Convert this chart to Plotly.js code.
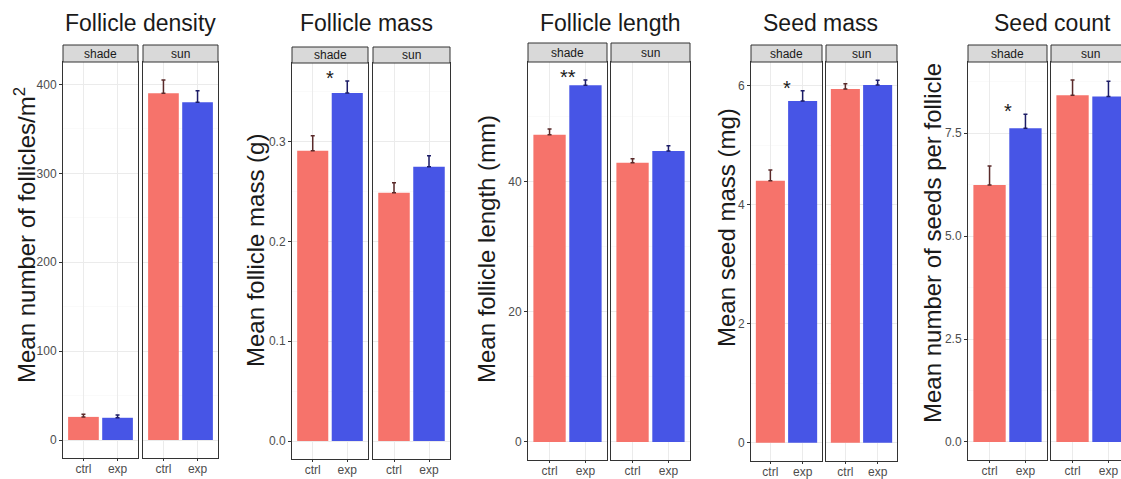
<!DOCTYPE html>
<html><head><meta charset="utf-8">
<script src="https://cdn.plot.ly/plotly-3.0.1.min.js"></script>
<style>html,body{margin:0;padding:0;background:#fff}#chart{width:1121px;height:479px}</style>
</head><body><div id="chart"></div>
<script>
// ---- data ----
const categories = ['ctrl', 'exp'];
const facets = ['shade', 'sun'];
const panelTitles = ['Follicle density', 'Follicle mass', 'Follicle length', 'Seed mass', 'Seed count'];
const yTitles = ['Mean number of follicles/m<sup>2</sup>', 'Mean follicle mass (g)', 'Mean follicle length (mm)', 'Mean seed mass (mg)', 'Mean number of seeds per follicle'];

const densityShade = [26, 25],      densityShadeErr = [3, 3];
const densitySun = [390, 380],      densitySunErr = [15, 13];
const fmassShade = [0.291, 0.349],  fmassShadeErr = [0.015, 0.012];
const fmassSun = [0.249, 0.275],    fmassSunErr = [0.010, 0.011];
const flengthShade = [47.2, 54.8],  flengthShadeErr = [0.9, 0.8];
const flengthSun = [42.9, 44.7],    flengthSunErr = [0.6, 0.8];
const smassShade = [4.40, 5.74],    smassShadeErr = [0.18, 0.17];
const smassSun = [5.94, 6.01],      smassSunErr = [0.09, 0.08];
const scountShade = [6.24, 7.62],   scountShadeErr = [0.46, 0.34];
const scountSun = [8.42, 8.39],     scountSunErr = [0.37, 0.37];
const significance = ['', '*', '**', '*', '*'];
const yTickStep = [100, 0.1, 20, 2, 2.5];
const yTickFormat = ['d', '.1f', 'd', 'd', '.1f'];

// ---- layout geometry (pixels) ----
const W = 1121, H = 479;
const facetX = [[63,138,143,218],[292,368,373,450],[528,607,611,690],[751,822,826,897],[968,1047,1051,1130]];
const panelTop = [62, 63, 62, 62, 62];
const panelBottom = [458, 459, 460, 461, 460];
const stripTop = [45, 47, 43, 45, 45];
const titleX = [140, 366, 610, 820, 1052];
const yTitleX = [25, 255, 487, 727, 932];
const yTitleY = [235, 251, 249, 228, 243];

const RED = '#F6736B', BLUE = '#4755E6';
const FONT = 'Liberation Sans, Arial, sans-serif';

const shadeVals = [densityShade, fmassShade, flengthShade, smassShade, scountShade];
const shadeErrs = [densityShadeErr, fmassShadeErr, flengthShadeErr, smassShadeErr, scountShadeErr];
const sunVals = [densitySun, fmassSun, flengthSun, smassSun, scountSun];
const sunErrs = [densitySunErr, fmassSunErr, flengthSunErr, smassSunErr, scountSunErr];

const px = x => x / W;
const py = y => 1 - y / H;

const traces = [];
const layout = {
  width: W, height: H, margin: {l: 0, r: 0, t: 0, b: 0},
  paper_bgcolor: '#fff', plot_bgcolor: '#fff',
  showlegend: false, barmode: 'overlay', bargap: 0.1,
  font: {family: FONT},
  shapes: [], annotations: []
};

for (let p = 0; p < 5; p++) {
  const vals = [shadeVals[p], sunVals[p]];
  const errs = [shadeErrs[p], sunErrs[p]];
  let mx = 0;
  for (let f = 0; f < 2; f++) for (let i = 0; i < 2; i++) mx = Math.max(mx, vals[f][i] + errs[f][i]);
  const yr = [-0.05 * mx, 1.05 * mx];

  for (let f = 0; f < 2; f++) {
    const k = p * 2 + f + 1;
    const xa = 'x' + k, ya = 'y' + k;
    const x0 = facetX[p][f * 2], x1 = facetX[p][f * 2 + 1];
    const x1c = Math.min(x1, W);
    const xr = [-0.6, -0.6 + 2.2 * (x1c - x0) / (x1 - x0)];
    const clipped = x1 > W;

    for (let i = 0; i < 2; i++) {
      traces.push({
        type: 'bar', x: [categories[i]], y: [vals[f][i]],
        xaxis: xa, yaxis: ya,
        marker: {color: i === 0 ? RED : BLUE, line: {width: 0}},
        error_y: {type: 'data', symmetric: false, array: [errs[f][i]], arrayminus: [0],
                  color: i === 0 ? '#5A2A2A' : '#1C1C66', thickness: 1.5, width: 2},
        hoverinfo: 'skip'
      });
    }

    layout['xaxis' + k] = {
      domain: [px(x0), px(x1c)], anchor: ya, type: 'category',
      categoryorder: 'array', categoryarray: categories,
      range: xr, fixedrange: true,
      showline: true, mirror: true, linecolor: '#333333', linewidth: 1,
      ticks: 'outside', ticklen: 2, tickcolor: '#333333', ticklabelstandoff: -2,
      tickfont: {size: 12, color: '#4D4D4D', family: FONT},
      showgrid: true, gridcolor: '#EBEBEB', gridwidth: 1, zeroline: false
    };
    layout['yaxis' + k] = {
      domain: [py(panelBottom[p]), py(panelTop[p])], anchor: xa,
      range: yr, fixedrange: true,
      showline: true, mirror: !clipped, linecolor: '#333333', linewidth: 1,
      ticks: f === 0 ? 'outside' : '', ticklen: 3, tickcolor: '#333333',
      showticklabels: f === 0, dtick: yTickStep[p], tick0: 0, tickformat: yTickFormat[p],
      tickfont: {size: 12, color: '#4D4D4D', family: FONT},
      showgrid: true, gridcolor: '#EBEBEB', gridwidth: 1, zeroline: false,
      minor: {dtick: yTickStep[p] / 2, tick0: 0, showgrid: true, gridcolor: '#F5F5F5', gridwidth: 0.5}
    };

    // facet strip
    layout.shapes.push({
      type: 'rect', xref: 'paper', yref: 'paper',
      x0: px(x0), x1: px(x1), y0: py(panelTop[p]), y1: py(stripTop[p]),
      fillcolor: '#D9D9D9', line: {color: '#333333', width: 1}, layer: 'above'
    });
    layout.annotations.push({
      xref: 'paper', yref: 'paper', x: px((x0 + x1) / 2), y: py((panelTop[p] + stripTop[p]) / 2),
      text: facets[f], showarrow: false, xanchor: 'center', yanchor: 'middle',
      font: {size: 12, color: '#1A1A1A', family: FONT}
    });
  }

  // significance marker above shade facet
  if (significance[p]) {
    const k = p * 2 + 1;
    layout.annotations.push({
      xref: 'x' + k, yref: 'y' + k, x: 0.5,
      y: shadeVals[p][1] + shadeErrs[p][1],
      text: significance[p], showarrow: false, xanchor: 'center', yanchor: 'bottom', yshift: -10,
      font: {size: 20, color: '#1A1A1A', family: FONT}
    });
  }

  // panel title
  layout.annotations.push({
    xref: 'paper', yref: 'paper', x: px(titleX[p]), y: py(23),
    text: panelTitles[p], showarrow: false, xanchor: 'center', yanchor: 'middle',
    font: {size: 23, color: '#1A1A1A', family: FONT}
  });
  // y axis title
  layout.annotations.push({
    xref: 'paper', yref: 'paper', x: px(yTitleX[p]), y: py(yTitleY[p]),
    text: yTitles[p], showarrow: false, xanchor: 'center', yanchor: 'middle', textangle: -90,
    font: {size: 24, color: '#1A1A1A', family: FONT}
  });
}

Plotly.newPlot('chart', traces, layout, {staticPlot: true, displayModeBar: false});
</script>
</body></html>
